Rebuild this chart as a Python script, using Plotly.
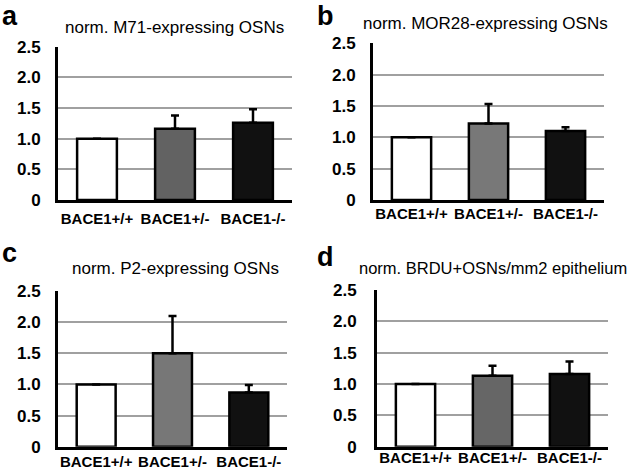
import plotly.graph_objects as go

categories = ["BACE1+/+", "BACE1+/-", "BACE1-/-"]
m71_vals = [1.0, 1.16, 1.26]
m71_err = [0.0, 0.22, 0.22]
mor28_vals = [1.0, 1.22, 1.10]
mor28_err = [0.0, 0.31, 0.06]
p2_vals = [1.0, 1.50, 0.87]
p2_err = [0.0, 0.60, 0.12]
brdu_vals = [1.0, 1.13, 1.16]
brdu_err = [0.0, 0.16, 0.20]

titles = ["norm. M71-expressing OSNs", "norm. MOR28-expressing OSNs",
          "norm. P2-expressing OSNs", "norm. BRDU+OSNs/mm2 epithelium"]
letters = ["a", "b", "c", "d"]
tick_vals = [0, 0.5, 1.0, 1.5, 2.0, 2.5]
tick_text = ["0", "0.5", "1.0", "1.5", "2.0", "2.5"]

gray_per_panel = ["#626262", "#787878", "#777777", "#666666"]
FONT = "Liberation Sans, Arial, Helvetica, sans-serif"
W, H = 630, 470

# panel geometry in pixels: (x0, x1, y_top(2.5), y_zero)
panels = [
    (58, 292, 46.7, 200.0),
    (373, 604, 43.3, 200.0),
    (58, 287, 291.0, 446.7),
    (377, 608, 290.0, 446.7),
]
xlabel_standoff = [3, -2, -1, -5]
ylabel_standoff = [11, 11, 11, 14]
# (x, y, anchor, size)
title_pos = [(174.5, 27, "center", 17), (485, 23, "center", 17),
             (175.5, 268, "center", 17), (629, 268, "right", 16.5)]
letter_pos = [(0, 16.5), (315, 16.5), (0, 253), (315, 257)]

data_sets = [(m71_vals, m71_err), (mor28_vals, mor28_err),
             (p2_vals, p2_err), (brdu_vals, brdu_err)]

fig = go.Figure()
layout = dict(
    width=W, height=H, autosize=False, margin=dict(l=0, r=0, t=0, b=0, pad=0),
    paper_bgcolor="white", plot_bgcolor="white", showlegend=False,
    font=dict(family=FONT, color="black"),
    annotations=[],
)

for i, ((vals, errs), (x0, x1, yt, yz)) in enumerate(zip(data_sets, panels)):
    sfx = "" if i == 0 else str(i + 1)
    fig.add_trace(go.Bar(
        x=categories, y=vals, width=0.51,
        marker=dict(color=["#ffffff", gray_per_panel[i], "#111111"],
                    line=dict(color="black", width=2.5)),
        error_y=dict(type="data", array=errs, arrayminus=[0, 0, 0], symmetric=False,
                     color="black", thickness=2.5, width=4),
        xaxis="x" + sfx, yaxis="y" + sfx, hoverinfo="skip",
    ))
    layout["xaxis" + sfx] = dict(
        domain=[x0 / W, x1 / W], anchor="y" + sfx, automargin=False,
        showline=True, linecolor="black", linewidth=3,
        showgrid=False, ticks="", ticklabelstandoff=xlabel_standoff[i],
        tickfont=dict(family=FONT, size=15, weight="bold", color="black"),
        fixedrange=True,
    )
    layout["yaxis" + sfx] = dict(
        domain=[1 - yz / H, 1 - yt / H], anchor="x" + sfx, automargin=False,
        range=[0, 2.5], tickvals=tick_vals, ticktext=tick_text,
        showline=True, linecolor="black", linewidth=3,
        showgrid=True, gridcolor="#a0a0a0", gridwidth=2,
        zeroline=False, ticks="", ticklabelstandoff=ylabel_standoff[i],
        tickfont=dict(family=FONT, size=17, weight="bold", color="black"),
        fixedrange=True,
    )
    tx, ty, tanc, tsz = title_pos[i]
    layout["annotations"].append(dict(
        text=titles[i], x=tx / W, y=1 - ty / H, xref="paper", yref="paper",
        xanchor=tanc, yanchor="middle", showarrow=False,
        font=dict(family=FONT, size=tsz, color="black"),
    ))
    lx, ly = letter_pos[i]
    layout["annotations"].append(dict(
        text=letters[i], x=lx / W, y=1 - ly / H, xref="paper", yref="paper",
        xanchor="left", yanchor="middle", showarrow=False,
        font=dict(family=FONT, size=27, weight="bold", color="black"),
    ))

fig.update_layout(**layout)
fig.write_html("out.html", config={"displayModeBar": False},
               post_script="document.body.style.margin='0';")
